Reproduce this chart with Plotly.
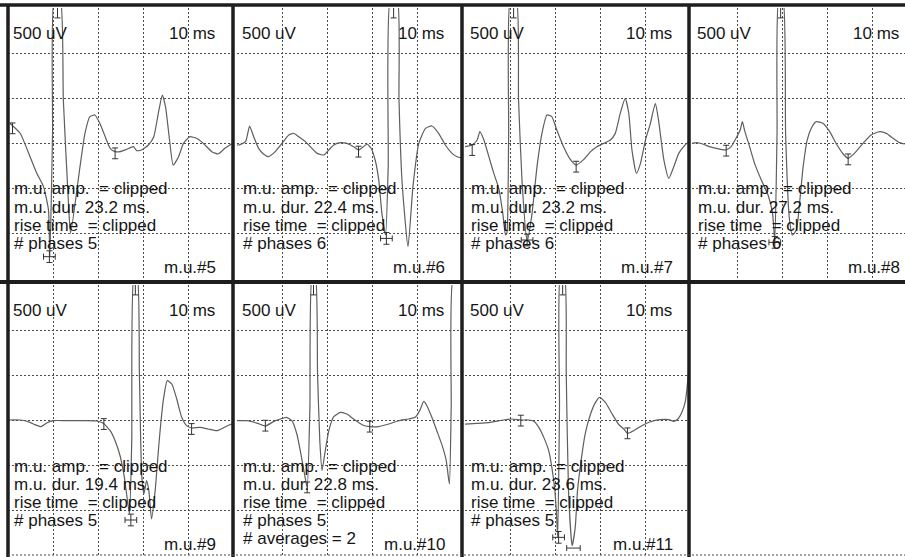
import plotly.graph_objects as go

# ---------------- data (time in ms, amplitude in uV) ----------------
mu5_t = [0.4, 2.7, 4.9, 6.4, 7.9, 9.0, 9.3, 9.9, 10.3, 11.6, 12.3, 13.4, 13.9, 16.0, 17.1, 18.2, 19.3, 20.4, 21.6, 22.7, 23.8, 24.9, 26.4, 27.9, 28.6, 29.7, 31.2, 32.4, 33.4, 34.3, 35.0, 35.9, 36.7, 37.9, 39.0, 40.4, 41.9, 43.4, 45.3, 46.7, 48.2, 49.3, 50]
mu5_v = [219, 108, -152, -337, -485, -745, -1263, 108, 1600, 1600, 478, -633, -1004, -263, 107, 293, 311, 219, 70, -59, -96, -96, -70, -41, -85, -78, -22, 70, 330, 533, 404, 33, -245, -152, -4, 70, 52, -4, -96, -122, -59, -22, 0]

mu6_t = [0, 0.4, 1.9, 2.8, 3.7, 4.8, 5.9, 7.0, 8.5, 10.0, 11.5, 12.6, 13.7, 15.2, 16.3, 17.8, 19.3, 20.4, 21.5, 23.0, 24.4, 25.9, 27.0, 28.1, 28.9, 29.8, 30.7, 31.5, 32.2, 33.0, 33.6, 34.1, 35.6, 36.0, 36.7, 38.0, 39.1, 40.4, 41.9, 43.3, 44.8, 46.3, 47.8, 48.9, 50]
mu6_v = [-20, -22, 15, 189, 70, -59, -122, -152, -96, -4, 89, 108, 70, 15, -41, -115, -133, -78, -22, 4, -4, -41, -78, -41, -11, -59, -189, -411, -782, -1022, -263, 1600, 1600, 478, -448, -1152, -485, -4, 163, 189, 108, -22, -115, -152, -165]

mu7_t = [0, 1.6, 2.7, 3.3, 4.2, 5.3, 6.4, 7.5, 8.4, 9.0, 9.3, 9.7, 10.1, 11.4, 11.9, 12.7, 13.8, 14.9, 16.0, 17.1, 18.2, 19.3, 20.4, 21.9, 23.4, 24.7, 26.4, 27.9, 29.3, 30.8, 32.3, 33.4, 34.5, 35.6, 36.4, 37.1, 38.1, 39.0, 40.1, 41.2, 42.3, 43.0, 44.2, 45.3, 46.4, 47.5, 48.6, 49.3, 50]
mu7_v = [-41, -22, 33, 126, 33, -152, -337, -504, -782, -1022, -1004, 107, 1600, 1600, 478, -448, -1096, -782, -263, 107, 311, 293, 144, -41, -182, -245, -182, -96, -41, -4, 33, 107, 330, 496, 330, -78, -337, -226, 33, 219, 441, 256, -189, -393, -263, -115, -41, -4, 10]

mu8_t = [0, 1.0, 2.4, 3.9, 5.4, 7.5, 8.7, 9.9, 10.7, 11.2, 11.7, 12.8, 13.9, 15.4, 16.9, 17.9, 18.4, 18.9, 19.3, 20.2, 20.8, 21.6, 22.3, 23.2, 23.9, 24.7, 25.6, 26.5, 27.6, 29.1, 30.6, 32.1, 33.6, 34.7, 36.1, 38.0, 39.8, 41.7, 43.2, 44.7, 46.1, 47.3]
mu8_v = [-4, 4, -11, -41, -59, -78, -41, 63, 144, 237, 137, -41, -226, -411, -578, -782, -1096, 107, 1600, 1600, 107, -819, -1022, -967, -670, -263, 33, 163, 237, 219, 126, -11, -122, -170, -115, -4, 89, 126, 107, 52, 4, -11]

mu9_t = [0, 2.7, 4.9, 6.0, 7.3, 8.6, 10.1, 13.0, 16.7, 19.7, 21.2, 22.7, 23.8, 24.9, 25.8, 26.4, 27.0, 27.5, 28.0, 28.7, 29.2, 29.7, 30.2, 30.8, 31.3, 31.9, 32.7, 33.6, 34.5, 35.4, 36.4, 37.5, 38.6, 39.7, 40.8, 42.7, 44.5, 46.4, 47.8, 49.3, 50]
mu9_v = [0, 0, -26, -52, -74, -33, -7, -7, -7, -11, -37, -119, -230, -397, -619, -841, -1045, -230, 1600, 1600, 511, -600, -822, -674, -785, -1100, -785, -230, 215, 437, 400, 233, 30, -63, -89, -81, -100, -119, -89, -52, -40]

mu10_t = [0, 2.2, 4.4, 6.3, 8.2, 9.6, 11.0, 12.2, 13.3, 14.2, 15.0, 15.6, 16.2, 16.7, 17.4, 17.9, 18.4, 18.9, 19.5, 20.4, 21.5, 23.0, 24.4, 25.9, 27.8, 29.5, 31.5, 33.7, 35.9, 38.1, 39.6, 40.6, 41.5, 42.2, 43.3, 44.4, 45.6, 46.5, 47.2, 47.6, 48.1, 50]
mu10_v = [-8, -8, -34, -67, -15, 11, 30, -8, -156, -378, -600, -749, 140, 1600, 1600, 511, -230, -563, -378, -119, 37, 85, 67, 11, -52, -74, -74, -45, -8, 11, 30, 104, 207, 159, 30, -119, -285, -452, -711, 140, 1600, 1600]

mu11_t = [0, 2.7, 5.6, 8.6, 10.4, 12.4, 14.1, 15.3, 16.4, 17.5, 18.6, 19.3, 19.9, 20.3, 20.6, 21.0, 21.2, 22.1, 22.5, 23.0, 23.8, 24.5, 25.0, 25.8, 26.7, 27.9, 29.0, 29.9, 31.2, 32.7, 34.1, 35.3, 36.1, 37.5, 39.3, 41.2, 43.4, 45.3, 46.4, 47.3, 48.2, 49.0, 49.5, 50]
mu11_v = [-45, -37, -26, 0, 11, 0, 0, -15, -82, -193, -341, -526, -749, -1008, -1304, 140, 1600, 1600, 511, -785, -1397, -1193, -785, -452, -156, 67, 196, 252, 196, 67, -45, -100, -148, -119, -63, -19, 4, 4, -15, 11, 85, 215, 437, 700]

# cursor markers: "I" (onset / end / clipped peak), "+" (negative peak)
mu5_cur_t = [1.0, 23.8, 11.0];  mu5_cur_v = [163, -115, 1450]
mu6_cur_t = [27.0, 34.8];       mu6_cur_v = [-96, 1450]
mu7_cur_t = [1.6, 24.7, 10.8];  mu7_cur_v = [-78, -263, 1450]
mu8_cur_t = [7.6, 34.7, 19.7];  mu8_cur_v = [-85, -182, 1450]
mu9_cur_t = [21.3, 40.8, 28.3]; mu9_cur_v = [-45, -100, 1450]
mu10_cur_t = [6.3, 29.5, 15.6, 17.0]; mu10_cur_v = [-63, -74, -749, 1450]
mu11_cur_t = [12.4, 36.1, 21.7]; mu11_cur_v = [-7, -148, 1450]

mu5_pk_t = [9.2];   mu5_pk_v = [-1263]
mu6_pk_t = [33.2];  mu6_pk_v = [-1060]
mu7_pk_t = [13.8];  mu7_pk_v = [-1078]
mu8_pk_t = [18.4];  mu8_pk_v = [-1104]
mu9_pk_t = [27.3];  mu9_pk_v = [-1111]
mu10_pk_t = [];     mu10_pk_v = []
mu11_pk_t = [20.8]; mu11_pk_v = [-1304]
mu11_end_t = [24.1]; mu11_end_v = [-1423]

unit_names = ["m.u.#5", "m.u.#6", "m.u.#7", "m.u.#8", "m.u.#9", "m.u.#10", "m.u.#11"]
durations = ["23.2", "22.4", "23.2", "27.2", "19.4", "22.8", "23.6"]
phases = ["5", "6", "6", "6", "5", "5", "5"]
averages = [None, None, None, None, None, "2", None]
gain_label = "500 uV"
sweep_label = "10 ms"

# ---------------- layout geometry (pixels) ----------------
W, H = 905, 557
COLS = [8, 237, 465, 692]
ROWS = [8, 285]
CELLW, CELLH = 45, 45
PW, PH = 5 * CELLW, 6 * CELLH

TRACE = "#5e5e5e"
INK = "#161616"
FONT = "Liberation Sans, Arial, sans-serif"

def px(x):
    return x / W

def py(y):
    return 1 - y / H

fig = go.Figure()

traces = [
    (mu5_t, mu5_v, mu5_cur_t, mu5_cur_v, mu5_pk_t, mu5_pk_v),
    (mu6_t, mu6_v, mu6_cur_t, mu6_cur_v, mu6_pk_t, mu6_pk_v),
    (mu7_t, mu7_v, mu7_cur_t, mu7_cur_v, mu7_pk_t, mu7_pk_v),
    (mu8_t, mu8_v, mu8_cur_t, mu8_cur_v, mu8_pk_t, mu8_pk_v),
    (mu9_t, mu9_v, mu9_cur_t, mu9_cur_v, mu9_pk_t, mu9_pk_v),
    (mu10_t, mu10_v, mu10_cur_t, mu10_cur_v, mu10_pk_t, mu10_pk_v),
    (mu11_t, mu11_v, mu11_cur_t, mu11_cur_v, mu11_pk_t, mu11_pk_v),
]

annotations = []
layout_axes = {}
for k in range(8):
    r, c = divmod(k, 4)
    x0 = COLS[c]
    x1 = min(x0 + PW, W)
    y0 = ROWS[r]
    y1 = y0 + PH
    sfx = "" if k == 0 else str(k + 1)
    layout_axes["xaxis" + sfx] = dict(
        domain=[px(x0), px(x1)], range=[0, (x1 - x0) / CELLW * 10],
        anchor="y" + sfx, showgrid=True, dtick=10, tick0=0,
        gridcolor="#4a4a4a", griddash="2px,2px", gridwidth=1,
        showticklabels=False, ticks="", zeroline=False, showline=False,
        fixedrange=True,
    )
    layout_axes["yaxis" + sfx] = dict(
        domain=[py(y1), py(y0)], range=[-1500, 1500],
        anchor="x" + sfx, showgrid=True, dtick=500, tick0=0,
        gridcolor="#4a4a4a", griddash="2px,2px", gridwidth=1,
        showticklabels=False, ticks="", zeroline=False, showline=False,
        fixedrange=True,
    )
    if k == 7:
        continue
    t, v, ct, cv, pt, pv = traces[k]
    xa, ya = "x" + sfx, "y" + sfx
    fig.add_trace(go.Scatter(x=t, y=v, mode="lines", xaxis=xa, yaxis=ya,
                             line=dict(color=TRACE, width=1.2, shape="spline",
                                       smoothing=0.5),
                             showlegend=False, hoverinfo="skip"))
    fig.add_trace(go.Scatter(x=ct, y=cv, mode="markers", xaxis=xa, yaxis=ya,
                             marker=dict(size=1, color="rgba(0,0,0,0)"),
                             error_y=dict(type="constant", value=60, color="#333",
                                          thickness=1, width=3),
                             showlegend=False, hoverinfo="skip"))
    if pt:
        fig.add_trace(go.Scatter(x=pt, y=pv, mode="markers", xaxis=xa, yaxis=ya,
                                 marker=dict(size=1, color="rgba(0,0,0,0)"),
                                 error_y=dict(type="constant", value=65, color="#333",
                                              thickness=1, width=3),
                                 error_x=dict(type="constant", value=1.3, color="#333",
                                              thickness=1, width=3),
                                 showlegend=False, hoverinfo="skip"))
    if k == 6:
        fig.add_trace(go.Scatter(x=mu11_end_t, y=mu11_end_v, mode="markers",
                                 xaxis=xa, yaxis=ya,
                                 marker=dict(size=1, color="rgba(0,0,0,0)"),
                                 error_x=dict(type="constant", value=1.5, color="#333",
                                              thickness=1, width=3),
                                 showlegend=False, hoverinfo="skip"))

    annotations.append(dict(text=gain_label, x=px(x0 + 3), y=py(y0 + 25),
                            xanchor="left", yanchor="middle"))
    annotations.append(dict(text=sweep_label, x=px(x0 + 209), y=py(y0 + 25),
                            xanchor="right", yanchor="middle"))
    lines = ["m.u. amp. \u00a0= clipped",
             "m.u. dur. %s ms." % durations[k],
             "rise time \u00a0= clipped",
             "# phases %s" % phases[k]]
    if averages[k]:
        lines.append("# averages = %s" % averages[k])
    for i, s in enumerate(lines):
        annotations.append(dict(text=s, x=px(x0 + 4), y=py(y0 + 181 + 18.2 * i),
                                xanchor="left", yanchor="middle"))
    annotations.append(dict(text=unit_names[k], x=px(x0 + 210), y=py(y0 + 259),
                            xanchor="right", yanchor="middle"))

for a in annotations:
    a.update(xref="paper", yref="paper", showarrow=False,
             font=dict(family=FONT, size=17, color=INK))

shapes = []
for yy, w in [(5, 3.5), (282, 4)]:
    shapes.append(dict(type="line", xref="paper", yref="paper",
                       x0=0, x1=1, y0=py(yy), y1=py(yy),
                       line=dict(color="#1e1e1e", width=w)))
for xx in [8, 233, 462, 689]:
    shapes.append(dict(type="line", xref="paper", yref="paper",
                       x0=px(xx), x1=px(xx), y0=py(4), y1=py(557),
                       line=dict(color="#1e1e1e", width=3.5)))
shapes.append(dict(type="line", xref="paper", yref="paper",
                   x0=px(8), x1=1, y0=py(555), y1=py(555),
                   line=dict(color="#4a4a4a", width=1, dash="2px,2px")))

fig.update_layout(
    width=W, height=H, margin=dict(l=0, r=0, t=0, b=0),
    paper_bgcolor="white", plot_bgcolor="white",
    annotations=annotations, shapes=shapes, showlegend=False,
    **layout_axes,
)

fig.write_html(
    "out.html",
    config={"displayModeBar": False, "staticPlot": True},
    post_script="document.body.style.margin='0';document.body.style.padding='0';document.body.style.overflow='hidden';",
)
